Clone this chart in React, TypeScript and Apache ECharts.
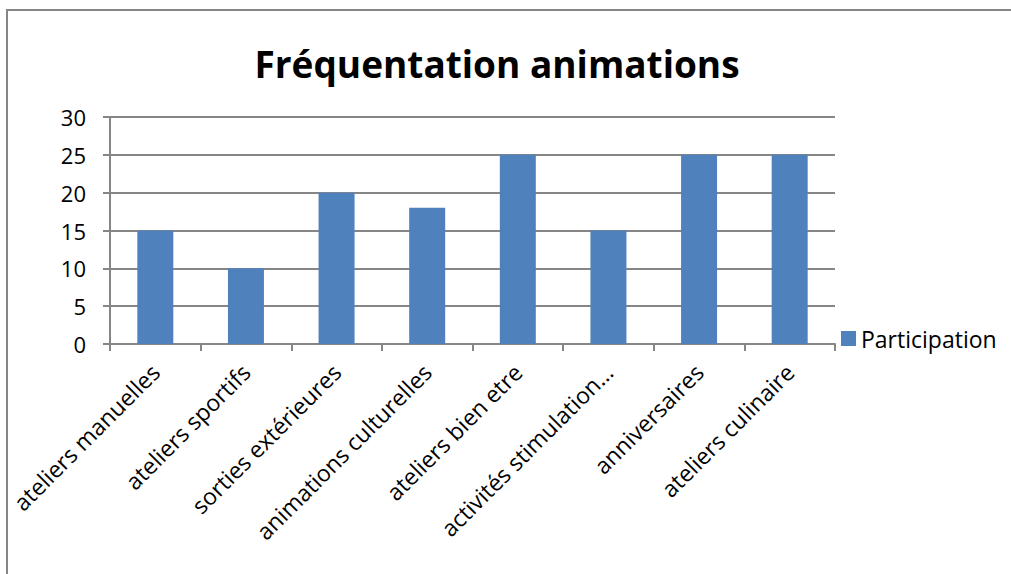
import React, { useEffect, useRef } from "react";
import * as echarts from "echarts";

const categories = [
  "ateliers manuelles",
  "ateliers sportifs",
  "sorties extérieures",
  "animations culturelles",
  "ateliers bien etre",
  "activités stimulation…",
  "anniversaires",
  "ateliers culinaire",
];
const participation = [15, 10, 20, 18, 25, 15, 25, 25];
const titleText = "Fréquentation animations";
const seriesName = "Participation";

export default function App() {
  const ref = useRef<HTMLDivElement>(null);
  useEffect(() => {
    if (!ref.current) return;
    const chart = echarts.init(ref.current, undefined, { renderer: "svg" });
    const font = "'Open Sans', sans-serif";
    chart.setOption({
      animation: false,
      backgroundColor: "#ffffff",
      textStyle: { fontFamily: font },
      title: {
        text: titleText,
        left: 492,
        textAlign: "center",
        top: 40,
        textStyle: { fontFamily: font, fontWeight: "bold", fontSize: 37, color: "#000" },
      },
      legend: {
        data: [seriesName],
        left: 836,
        top: 322,
        icon: "rect",
        itemWidth: 15,
        itemHeight: 15,
        itemGap: 6,
        textStyle: { fontFamily: font, fontSize: 23, color: "#000", padding: [0, 0, 0, 0] },
      },
      grid: { left: 110, right: 176, top: 117, bottom: 230, containLabel: false },
      xAxis: {
        type: "category",
        data: categories,
        axisLine: { lineStyle: { color: "#868686", width: 2 } },
        axisTick: { show: true, length: 7, lineStyle: { color: "#868686", width: 2 } },
        axisLabel: { rotate: 45, interval: 0, margin: 24, fontSize: 23, color: "#000", fontFamily: font },
      },
      yAxis: {
        type: "value",
        min: 0,
        max: 30,
        interval: 5,
        axisLine: { show: true, lineStyle: { color: "#868686", width: 2 } },
        axisTick: { show: true, length: 7, lineStyle: { color: "#868686", width: 2 } },
        splitLine: { lineStyle: { color: "#868686", width: 2 } },
        axisLabel: { fontSize: 22, color: "#000", margin: 24, fontFamily: font },
      },
      series: [
        {
          name: seriesName,
          type: "bar",
          data: participation,
          barWidth: 36,
          itemStyle: { color: "#4F81BD" },
        },
      ],
      graphic: [
        {
          type: "rect",
          shape: { x: 7, y: 10, width: 1020, height: 600 },
          style: { fill: "none", stroke: "#868686", lineWidth: 2 },
          silent: true,
        },
      ],
    });
    return () => chart.dispose();
  }, []);
  return (
    <div
      ref={ref}
      style={{ position: "fixed", left: 0, top: 0, width: 1011, height: 574 }}
    />
  );
}
